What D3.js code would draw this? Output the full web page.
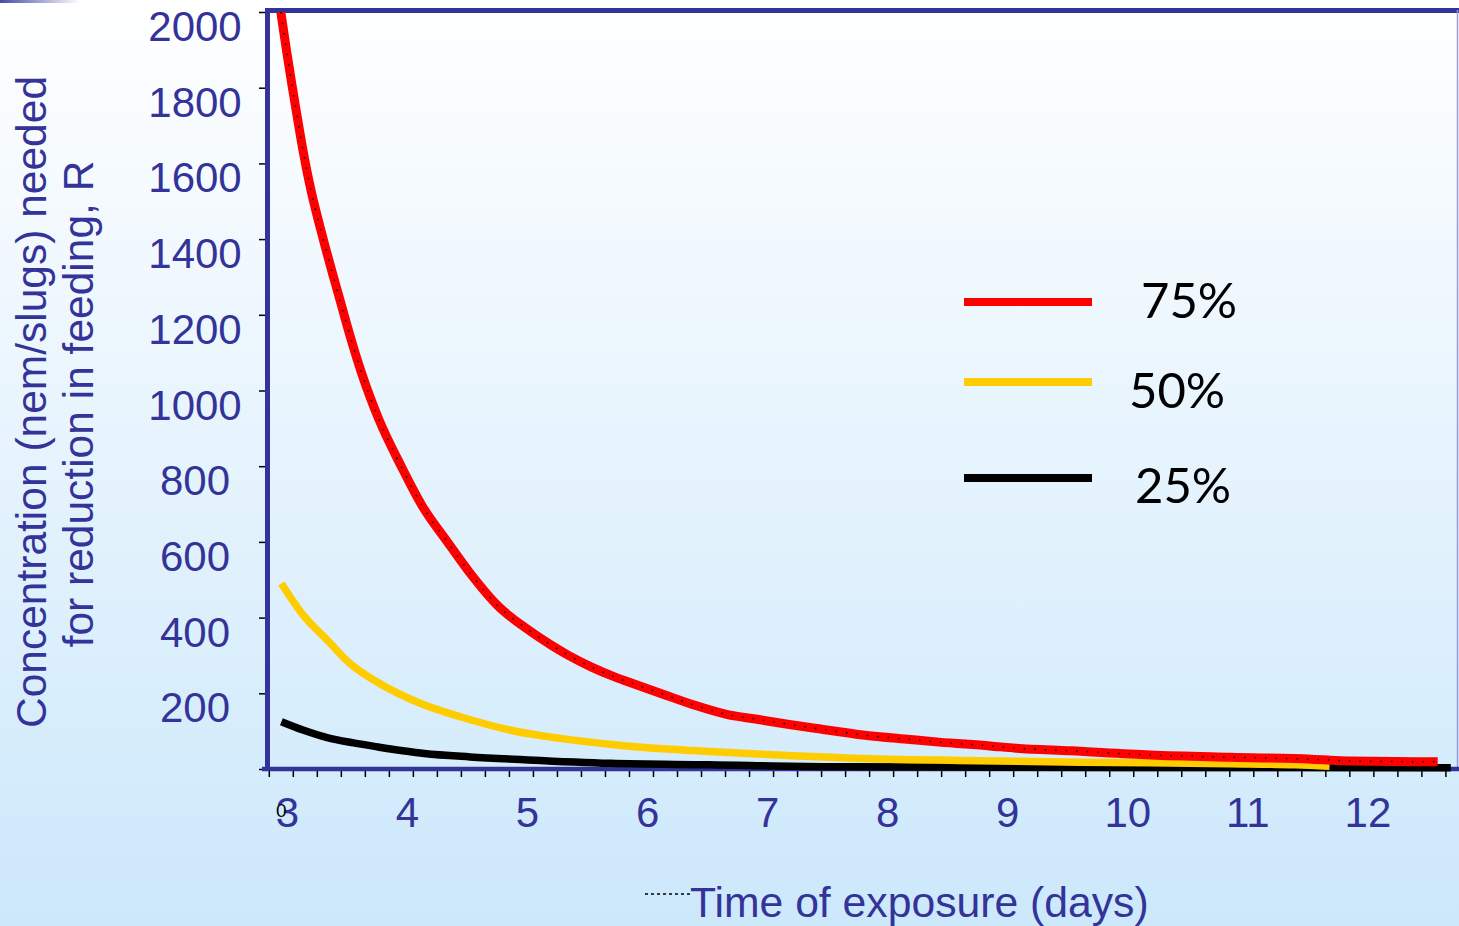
<!DOCTYPE html>
<html>
<head>
<meta charset="utf-8">
<script src="https://cdn.jsdelivr.net/npm/d3@7"></script>
<style>
  html, body { margin: 0; padding: 0; overflow: hidden; }
  svg { display: block; }
</style>
</head>
<body>
<svg id="chart" width="1459" height="926"></svg>
<script>
// data
let seriesNames = ['75%', '50%', '25%'];
let seriesColors = ['#ff0000', '#ffcc00', '#000000'];

let days75 = [2.945, 2.994, 3.036, 3.077, 3.119, 3.161, 3.202, 3.257, 3.313, 3.382, 3.424, 3.494, 3.549, 3.619, 3.688, 3.76, 3.952, 4.119, 4.34, 4.535, 4.757, 4.987, 5.194, 5.337, 5.529, 5.72, 5.912, 6.134, 6.387, 6.676, 6.899, 7.153, 7.41, 7.792, 8.186, 8.427, 8.852, 9.067, 9.524, 10.19, 10.86, 11.528, 11.863, 12.581];
let conc75 = [2000, 1895, 1811, 1732, 1653, 1582, 1521, 1450, 1382, 1302, 1255, 1175, 1115, 1045, 983, 925, 797, 697, 597, 512, 430, 372, 328, 301, 270, 244, 222, 197, 169, 143, 132, 119, 107, 90, 78, 71, 61, 55, 48, 37, 31, 26, 21, 19];

let days50 = [2.95, 3.13, 3.33, 3.52, 3.74, 4.11, 4.44, 4.91, 5.27, 5.7, 6.2, 6.84, 7.79, 8.75, 9.6, 10.86, 11.4, 11.68];
let conc50 = [490, 407, 341, 279, 231, 173, 138, 99, 81, 65, 52, 41, 28, 22, 18, 14, 11, 7];

let days25 = [2.95, 3.13, 3.33, 3.55, 3.74, 4.14, 4.52, 5.0, 5.69, 6.51, 7.47, 8.5, 10.0, 11.5, 12.69];
let conc25 = [125, 103, 83, 69, 59, 41, 32, 24, 15, 11, 6, 5, 4, 4, 3];

let xLabels = [3, 4, 5, 6, 7, 8, 9, 10, 11, 12];
let yLabels = [200, 400, 600, 800, 1000, 1200, 1400, 1600, 1800, 2000];
let yTicks = [0, 200, 400, 600, 800, 1000, 1200, 1400, 1600, 1800, 2000];

let navy = '#333399';
let font = "'Liberation Sans', Arial, sans-serif";

let svg = d3.select('#chart');
let defs = svg.append('defs');

let bg = defs.append('linearGradient').attr('id', 'bg')
  .attr('x1', 0).attr('y1', 0).attr('x2', 0).attr('y2', 1);
bg.append('stop').attr('offset', '0%').attr('stop-color', '#ffffff');
bg.append('stop').attr('offset', '100%').attr('stop-color', '#cce8fb');

let corner = defs.append('linearGradient').attr('id', 'corner')
  .attr('x1', 0).attr('y1', 0).attr('x2', 1).attr('y2', 0);
corner.append('stop').attr('offset', '0%').attr('stop-color', '#4a4aaa');
corner.append('stop').attr('offset', '100%').attr('stop-color', '#4a4aaa').attr('stop-opacity', 0);

defs.append('clipPath').attr('id', 'plotClip')
  .append('rect').attr('x', 267).attr('y', 12).attr('width', 1192).attr('height', 790);

svg.append('rect').attr('width', 1459).attr('height', 926).attr('fill', 'url(#bg)');
svg.append('rect').attr('x', 0).attr('y', 0).attr('width', 80).attr('height', 3).attr('fill', 'url(#corner)');

let x = d3.scaleLinear().domain([2.83, 12.75]).range([267, 1458]);
let y = d3.scaleLinear().domain([0, 2000]).range([769, 12]);

// frame: top and right border
svg.append('line')
  .attr('x1', 265).attr('x2', 1459).attr('y1', 10.5).attr('y2', 10.5)
  .attr('stroke', navy).attr('stroke-width', 5);
svg.append('line')
  .attr('x1', 1457.5).attr('x2', 1457.5).attr('y1', 10).attr('y2', 769)
  .attr('stroke', '#9a9ad8').attr('stroke-width', 1.5);

// y axis
let yAxis = d3.axisLeft(y).tickValues(yTicks).tickSize(6).tickFormat('');
let yG = svg.append('g').attr('transform', 'translate(265,0)').call(yAxis);
yG.select('.domain').remove();
yG.selectAll('.tick line').attr('stroke', '#000').attr('stroke-width', 1.5);

svg.append('line')
  .attr('x1', 267.5).attr('x2', 267.5).attr('y1', 8).attr('y2', 771)
  .attr('stroke', navy).attr('stroke-width', 5);

svg.append('g').selectAll('text')
  .data(yLabels)
  .enter()
  .append('text')
  .attr('x', 195)
  .attr('y', (v) => y(v) + 29)
  .attr('text-anchor', 'middle')
  .attr('font-family', font)
  .attr('font-size', 42)
  .attr('fill', navy)
  .text((v) => v);

// x axis: minor ticks every 0.2 day
let minorTicks = d3.range(0, 50).map((i) => 2.845 + i * 0.2).filter((d) => d <= 12.75);
let xAxis = d3.axisBottom(x).tickValues(minorTicks).tickSize(8).tickFormat('');
let xG = svg.append('g').attr('transform', 'translate(0,769)').call(xAxis);
xG.select('.domain').remove();
xG.selectAll('.tick line').attr('stroke', '#000').attr('stroke-width', 1.5);

svg.append('line')
  .attr('x1', 262).attr('x2', 1459).attr('y1', 769).attr('y2', 769)
  .attr('stroke', navy).attr('stroke-width', 4.5);

svg.append('g').selectAll('text')
  .data(xLabels)
  .enter()
  .append('text')
  .attr('x', (d) => x(d))
  .attr('y', 827)
  .attr('text-anchor', 'middle')
  .attr('font-family', font)
  .attr('font-size', 42)
  .attr('fill', navy)
  .text((d) => d);

// stray zero under the 3
svg.append('text')
  .attr('x', 276).attr('y', 817)
  .attr('font-family', font).attr('font-size', 19)
  .attr('fill', '#000')
  .text('0');

// axis titles
svg.append('text')
  .attr('transform', 'translate(46,402) rotate(-90)')
  .attr('text-anchor', 'middle')
  .attr('font-family', font).attr('font-size', 42.5)
  .attr('fill', navy)
  .text('Concentration (nem/slugs) needed');
svg.append('text')
  .attr('transform', 'translate(93,404) rotate(-90)')
  .attr('text-anchor', 'middle')
  .attr('font-family', font).attr('font-size', 42.5)
  .attr('fill', navy)
  .text('for reduction in feeding, R');

svg.append('line')
  .attr('x1', 645).attr('x2', 690).attr('y1', 894).attr('y2', 894)
  .attr('stroke', '#000').attr('stroke-width', 1.5).attr('stroke-dasharray', '3 3');
svg.append('text')
  .attr('x', 690).attr('y', 917)
  .attr('font-family', font).attr('font-size', 42.7)
  .attr('fill', navy)
  .text('Time of exposure (days)');

// curves
let line = d3.line()
  .x((d) => x(d[0]))
  .y((d) => y(d[1]))
  .curve(d3.curveMonotoneX);

let series = [
  { name: seriesNames[2], color: seriesColors[2], pts: d3.zip(days25, conc25), width: 7.5 },
  { name: seriesNames[1], color: seriesColors[1], pts: d3.zip(days50, conc50), width: 7.5 },
  { name: seriesNames[0], color: seriesColors[0], pts: d3.zip(days75, conc75), width: 9 }
];

let curves = svg.append('g').attr('clip-path', 'url(#plotClip)');
curves.selectAll('path.curve')
  .data(series)
  .enter()
  .append('path')
  .attr('class', 'curve')
  .attr('d', (s) => line(s.pts))
  .attr('fill', 'none')
  .attr('stroke', (s) => s.color)
  .attr('stroke-width', (s) => s.width)
  .attr('stroke-linejoin', 'round');

// tiny black dots sitting inside the red line
curves.append('path')
  .attr('d', line(d3.zip(days75, conc75)))
  .attr('fill', 'none')
  .attr('stroke', '#000')
  .attr('stroke-width', 1.5)
  .attr('stroke-dasharray', '1.5 9');

// legend
let legendY = [302, 382, 478];
let legendTextX = [1141, 1129, 1135];
let legendTextY = [318, 408, 503];

let legend = svg.append('g');
legend.selectAll('line')
  .data(seriesNames)
  .enter()
  .append('line')
  .attr('x1', 964).attr('x2', 1092)
  .attr('y1', (d, i) => legendY[i]).attr('y2', (d, i) => legendY[i])
  .attr('stroke', (d, i) => seriesColors[i])
  .attr('stroke-width', 8);
legend.selectAll('text')
  .data(seriesNames)
  .enter()
  .append('text')
  .attr('x', (d, i) => legendTextX[i])
  .attr('y', (d, i) => legendTextY[i])
  .attr('font-family', "Lato, 'Open Sans', sans-serif")
  .attr('font-size', 49)
  .attr('fill', '#000')
  .text((d) => d);
</script>
</body>
</html>
